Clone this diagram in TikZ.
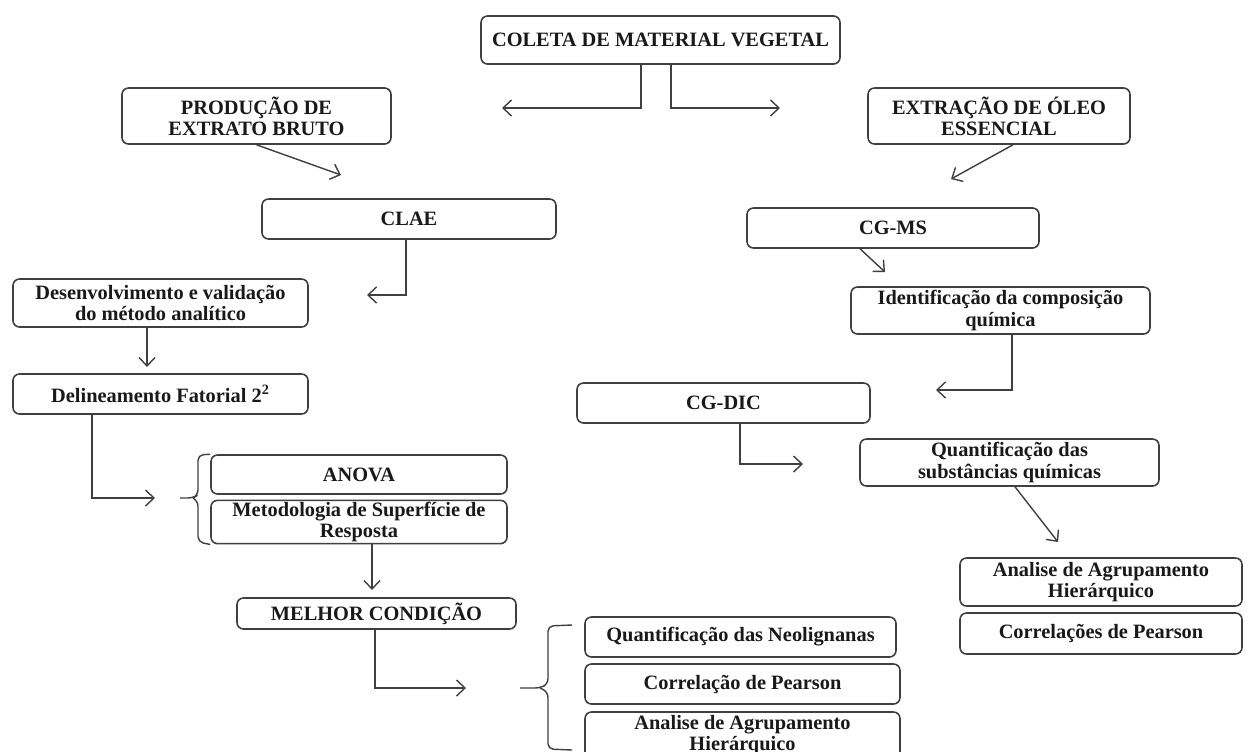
\documentclass[tikz,border=0pt]{standalone}
\usepackage{fontspec}
\setmainfont{Liberation Serif}
\usetikzlibrary{arrows.meta,calc}
\tikzset{
  box/.style={draw=black!75, line width=0.9pt, rounded corners=0.13cm, align=center,
    inner sep=1pt, font=\fontsize{11.6}{12}\selectfont\bfseries, text=black!90},
  arr/.style={draw=black!75, line width=0.8pt, -{Straight Barb[length=1.7mm,width=3.2mm]}},
  ln/.style={draw=black!75, line width=0.8pt},
}
\newcommand{\bx}[6]{\node[box, minimum width=#4*0.02cm, minimum height=#5*0.02cm] (#1) at (#2,#3) {#6};}
\begin{document}
\begin{tikzpicture}[x=0.02cm,y=-0.02cm]
\useasboundingbox (0,0) rectangle (1250,751);
\fill[white] (0,0) rectangle (1250,751);
\clip (0,0) rectangle (1250,751);

% boxes
\bx{coleta}{660.5}{40}{359}{48}{COLETA DE MATERIAL VEGETAL}
\bx{prod}{256.5}{116}{269}{56}{PRODUÇÃO DE\\EXTRATO BRUTO}
\bx{extr}{999}{116}{262}{56}{EXTRAÇÃO DE ÓLEO\\ESSENCIAL}
\bx{clae}{409}{219}{294}{40}{CLAE}
\bx{cgms}{893}{228}{292}{40}{CG-MS}
\bx{desenv}{160.5}{303}{295}{48}{Desenvolvimento e validação\\do método analítico}
\bx{ident}{1000.5}{310.5}{299}{47}{Identificação da composição\\química}
\bx{delin}{160.5}{394}{295}{40}{Delineamento Fatorial 2\textsuperscript{2}}
\bx{cgdic}{723.5}{403}{293}{40}{CG-DIC}
\bx{quant}{1009.5}{462.5}{299}{47}{Quantificação das\\substâncias químicas}
\bx{anova}{359}{474.5}{296}{39}{ANOVA}
\bx{metod}{359}{522}{296}{40}{Metodologia de Superfície de\\Resposta}
\bx{analiseR}{1101}{582}{282}{48}{Analise de Agrupamento\\Hierárquico}
\bx{correlR}{1101}{633.5}{282}{41}{Correlações de Pearson}
\bx{melhor}{376.5}{613.5}{279}{31}{MELHOR CONDIÇÃO}
\bx{neolig}{740.5}{637}{311}{40}{Quantificação das Neolignanas}
\bx{correl}{742.5}{684}{315}{40}{Correlação de Pearson}
\bx{analiseB}{742.5}{735}{315}{46}{Analise de Agrupamento\\Hierárquico}

% free ends
\coordinate (e1) at (502,108);
\coordinate (e2) at (780,108);
\coordinate (e3) at (341,175);
\coordinate (e4) at (951,179);
\coordinate (e5) at (367,295);
\coordinate (e6) at (147,367);
\coordinate (e7) at (155,498);
\coordinate (e8) at (885,272);
\coordinate (e9) at (936,390);
\coordinate (e10) at (803,464);
\coordinate (e11) at (1058,542);
\coordinate (e12) at (372,590);
\coordinate (e13) at (466,688);

% connectors
\draw[arr] ($(coleta.south)+(-19.5,0)$) |- (e1);
\draw[arr] ($(coleta.south)+(10.5,0)$) |- (e2);
\draw[arr] (prod.south) -- (e3);
\draw[arr] ($(extr.south)+(14,0)$) -- (e4);
\draw[arr] ($(clae.south)+(-3,0)$) |- (e5);
\draw[arr] ($(desenv.south)+(-13.5,0)$) -- (e6);
\draw[arr] ($(delin.south)+(-68.5,0)$) |- (e7);
\draw[arr] ($(cgms.south)+(-33,0)$) -- (e8);
\draw[arr] ($(ident.south)+(11.5,0)$) |- (e9);
\draw[arr] ($(cgdic.south)+(16.5,0)$) |- (e10);
\draw[arr] ($(quant.south)+(5.5,0)$) -- (e11);
\draw[arr] ($(metod.south)+(13,0)$) -- (e12);
\draw[arr] ($(melhor.south)+(-1.5,0)$) |- (e13);

% braces
\draw[ln, rounded corners=3pt] (anova.north west) -- (198,455) -- (198,495) -- (193,498) -- (180,498);
\draw[ln, rounded corners=3pt] (193,498) -- (198,501) -- (198,542) -- (metod.south west);
\draw[ln, rounded corners=3pt] (572,625) -- (548,626) -- (548,684) -- (540,688) -- (520,688);
\draw[ln, rounded corners=3pt] (540,688) -- (548,692) -- (548,749) -- (572,750);
\end{tikzpicture}
\end{document}
